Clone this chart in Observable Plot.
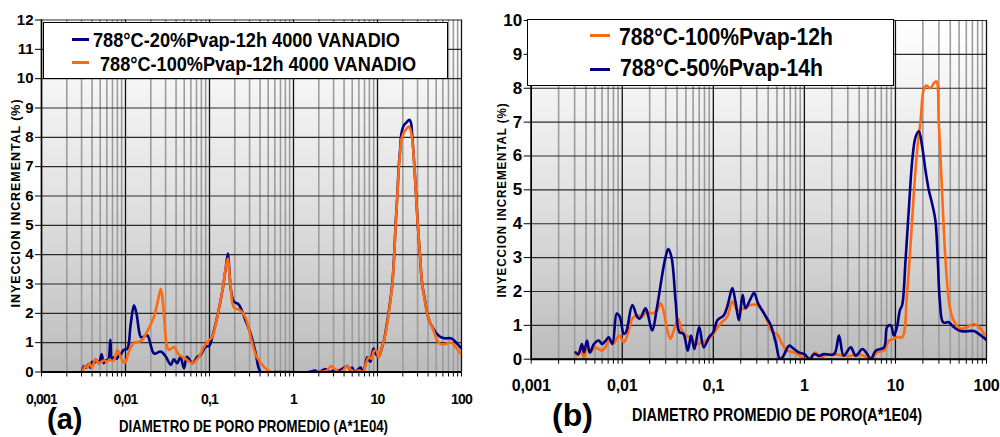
<!DOCTYPE html>
<html><head><meta charset="utf-8">
<script src="https://cdn.jsdelivr.net/npm/d3@7"></script>
<script src="https://cdn.jsdelivr.net/npm/@observablehq/plot@0.6"></script>
<style>
body{margin:0;background:#fff;}
#wrap{position:relative;width:1000px;height:437px;overflow:hidden;font-family:"Liberation Sans",Arial,sans-serif;color:#000;}
.panel{position:absolute;top:0;}
.legend{position:absolute;background:#fff;border:1px solid #000;box-sizing:border-box;}
.sw{position:absolute;height:3px;}
.abs{position:absolute;white-space:pre;font-weight:bold;line-height:1;transform-origin:0 0;}
</style></head>
<body><div id="wrap"></div>
<script>
// ---- data (a) ----
const diamA20 = [0.00307,0.0032,0.0034,0.0036,0.0038,0.004,0.0042,0.0045,0.0048,0.0052,0.0055,0.0058,0.0062,0.0066,0.0069,0.0073,0.0078,0.0083,0.0088,0.0095,0.0105,0.0115,0.0126,0.0135,0.0145,0.0152,0.0165,0.0182,0.0219,0.0263,0.0302,0.0347,0.0375,0.0414,0.045,0.0497,0.054,0.0625,0.0718,0.078,0.09,0.1,0.108,0.124,0.143,0.157,0.166,0.172,0.18,0.195,0.223,0.269,0.309,0.354,0.41,0.6,1.5,1.8,2.0,2.4,2.7,3.0,3.5,4.0,4.4,4.8,5.0,5.3,5.7,6.3,6.7,7.1,7.55,8.2,8.6,9.0,9.6,10.4,11.2,11.9,12.7,13.6,14.3,15.0,15.8,16.4,17.2,17.9,18.6,19.3,20.5,22,24,25,26,27.5,28.8,30.2,32,34,36.5,39,42,46.6,51,56,63,74,80,90,100];
const injA20  = [0.05,0.2,0.15,0.25,0.15,0.35,0.3,0.4,0.3,0.6,0.3,0.4,0.4,1.1,0.45,0.5,0.45,0.55,0.6,0.75,0.79,1.6,2.27,2.0,1.4,1.19,1.2,1.25,0.63,0.7,0.52,0.24,0.43,0.3,0.52,0.13,0.52,0.3,0.52,0.58,0.86,0.9,1.2,1.9,2.8,3.6,4.04,3.5,2.8,2.4,2.3,1.75,1.3,0.66,0.0,0.0,0.0,0.05,0.0,0.1,0.0,0.05,0.05,0.15,0.2,0.05,0.15,0.0,0.05,0.15,0.0,0.2,0.5,0.35,0.6,0.8,0.6,0.55,0.8,1.05,1.5,2.05,2.5,3.0,4.0,5.0,6.0,7.0,7.6,8.15,8.4,8.5,8.6,8.5,8.0,7.0,6.0,5.0,4.0,3.0,2.5,2.0,1.7,1.45,1.3,1.2,1.15,1.15,1.1,0.95,0.8];
const diamA100 = [0.00307,0.0033,0.0035,0.0037,0.004,0.0044,0.0048,0.0052,0.0056,0.006,0.0064,0.0069,0.0073,0.008,0.0088,0.0098,0.0105,0.011,0.0126,0.0152,0.0182,0.0219,0.0246,0.0263,0.0278,0.0293,0.0309,0.033,0.0378,0.043,0.052,0.0625,0.075,0.086,0.1,0.108,0.124,0.143,0.157,0.166,0.172,0.179,0.195,0.234,0.269,0.309,0.354,0.41,0.488,0.55,2.0,2.5,2.8,3.1,3.5,3.9,4.3,4.7,5.0,5.3,6.0,6.7,7.3,7.9,8.5,9.0,9.6,10.4,11.2,11.9,12.7,13.6,14.3,15.0,15.8,16.4,17.2,17.9,18.6,19.3,20.5,22,23.5,24.5,26,27.5,28.8,30.2,32,34,36.5,39,42,46.6,51,56,63,74,80,90,100];
const injA100  = [0.0,0.2,0.15,0.3,0.15,0.45,0.3,0.35,0.4,0.35,0.42,0.38,0.4,0.75,0.5,0.3,0.5,0.7,1.0,1.05,1.39,1.9,2.5,2.84,2.4,1.6,0.92,0.75,0.85,0.6,0.45,0.3,0.52,0.86,1.1,1.2,1.9,2.8,3.6,3.88,3.4,2.9,2.2,2.1,1.85,1.2,0.6,0.3,0.07,0.0,0.0,0.05,0.2,0.1,0.0,0.05,0.2,0.1,0.05,0.0,0.05,0.0,0.3,0.5,0.45,0.7,0.75,0.5,0.8,1.05,1.45,2.0,2.45,2.95,3.95,4.95,5.95,6.9,7.5,7.95,8.15,8.28,8.37,8.3,7.9,7.0,6.0,5.0,4.0,3.0,2.45,2.0,1.7,1.4,1.1,0.95,0.95,1.0,0.95,0.75,0.6];
// ---- data (b) ----
const diamB100 = [0.00307,0.0032,0.0035,0.0038,0.0041,0.0045,0.005,0.0055,0.006,0.0065,0.0073,0.008,0.0092,0.0104,0.0115,0.0129,0.0146,0.0165,0.0188,0.0213,0.0243,0.0264,0.0286,0.031,0.0338,0.0368,0.041,0.0445,0.0495,0.056,0.064,0.0755,0.086,0.1,0.12,0.142,0.162,0.184,0.216,0.256,0.3,0.345,0.39,0.444,0.5,0.57,0.65,0.77,0.9,1.0,1.16,1.33,1.5,1.64,2.12,2.7,3.23,3.86,4.5,5.36,6.3,7.5,8.5,9.6,10.4,11.86,13.4,14.6,15.9,17.3,18.9,20.5,21.9,24.3,26.4,28.2,29.9,32.6,35.5,39.5,43.7,51.8,61.4,72.5,82.3,100];
const injB100  = [0.2,0.1,0.3,0.05,0.3,0.2,0.35,0.3,0.25,0.35,0.55,0.45,0.7,0.5,0.75,1.2,1.3,1.25,1.4,1.35,1.45,1.65,1.4,0.9,0.6,0.85,1.2,0.9,0.7,0.65,0.45,0.5,0.55,0.75,1.05,1.25,1.7,1.45,1.5,1.6,1.6,1.45,1.15,0.8,0.75,0.45,0.25,0.2,0.1,0.0,0.05,0.2,0.0,0.1,0.15,0.1,0.1,0.15,0.1,0.0,0.2,0.25,0.55,0.6,0.65,0.65,1.93,3.31,4.88,6.16,7.05,7.98,8.08,8.0,8.15,8.2,7.0,4.88,2.91,1.54,1.14,0.9,0.95,1.04,0.95,0.65];
const diamB50 = [0.00307,0.0033,0.0036,0.0038,0.0041,0.0044,0.0049,0.0055,0.006,0.0066,0.0071,0.0078,0.0087,0.0094,0.0104,0.011,0.0129,0.0146,0.0156,0.018,0.019,0.0213,0.0243,0.0275,0.0298,0.032,0.0348,0.0386,0.0424,0.047,0.0524,0.057,0.062,0.070,0.0785,0.0896,0.1,0.1107,0.1306,0.144,0.1617,0.175,0.191,0.21,0.226,0.253,0.28,0.31,0.36,0.427,0.484,0.54,0.59,0.68,0.77,0.87,1.0,1.15,1.28,1.45,1.64,2.12,2.4,2.7,3.23,3.66,4.34,4.9,5.36,6.07,7.5,8.1,8.9,9.6,10.4,11.2,11.86,12.9,14.0,15.3,16.6,18.1,19.7,21.4,23.3,25.3,27.5,29.2,30.7,33.4,38.5,43.7,51.8,72.5,82.3,100];
const injB50  = [0.2,0.15,0.45,0.2,0.55,0.2,0.45,0.55,0.45,0.55,0.65,0.45,1.35,1.25,0.75,0.8,1.6,1.25,1.2,1.5,1.35,0.85,1.6,2.5,3.0,3.25,3.0,1.7,0.8,0.75,0.25,0.7,0.3,0.95,0.35,0.65,0.8,1.15,1.3,1.6,2.1,1.7,1.15,1.9,1.5,1.75,1.95,1.65,1.35,1.0,0.5,0.0,0.1,0.4,0.3,0.2,0.15,0.0,0.15,0.1,0.15,0.15,0.7,0.1,0.35,0.1,0.3,0.15,0.0,0.25,0.35,0.95,1.0,0.7,0.95,1.45,1.6,2.91,4.39,5.87,6.55,6.73,6.26,5.57,4.98,4.59,4.09,2.91,1.73,1.09,1.09,0.95,0.83,0.83,0.75,0.57];
// ---- labels ----
const xMajorTicks = [0.001, 0.01, 0.1, 1, 10, 100];
const xMajorLabels = ["0,001", "0,01", "0,1", "1", "10", "100"];
const legendA = ["788°C-20%Pvap-12h 4000 VANADIO", "788°C-100%Pvap-12h 4000 VANADIO"];
const legendB = ["788°C-100%Pvap-12h", "788°C-50%Pvap-14h"];
const yTitle = "INYECCION INCREMENTAL (%)";
const xTitleA = "DIAMETRO DE PORO PROMEDIO (A*1E04)";
const xTitleB = "DIAMETRO PROMEDIO DE PORO(A*1E04)";
const NAVY = "#000080", ORANGE = "#ff6a10";

const rows = (xs, ys) => xs.map((x, i) => ({x, y: ys[i]}));
const minorTicks = [];
for (let e = -3; e <= 1; e++) for (let k = 2; k <= 9; k++) minorTicks.push(+(k * Math.pow(10, e)).toPrecision(6));
const allTicks = xMajorTicks.concat(minorTicks);
const labelOf = d => { const i = xMajorTicks.findIndex(t => Math.abs(t - d) < t * 1e-6); return i >= 0 ? xMajorLabels[i] : ""; };

function panel({width, height, mL, mR, mT, mB, ymax, series, gid, xFont, yFont, xPad, yTick, xSpacing}) {
  const yt = d3.range(0, ymax + 1);
  const svg = Plot.plot({
    width, height, marginLeft: mL, marginRight: mR, marginTop: mT, marginBottom: mB,
    style: {fontFamily: '"Liberation Sans", Arial, sans-serif', background: "transparent", color: "#000"},
    x: {type: "log", domain: [0.001, 100]},
    y: {domain: [0, ymax]},
    marks: [
      Plot.frame({fill: `url(#${gid})`, stroke: "none"}),
      Plot.gridX(minorTicks, {stroke: "#9c9c9c", strokeOpacity: 1, strokeWidth: 1.6}),
      Plot.gridY(yt, {stroke: "#2a2a2a", strokeOpacity: 1, strokeWidth: 1.1}),
      Plot.gridX(xMajorTicks, {stroke: "#111", strokeOpacity: 1, strokeWidth: 1.3}),
      Plot.axisX(allTicks, {tickSize: 5, tickPadding: xPad, tickFormat: labelOf, label: null, fontWeight: "bold"}),
      Plot.axisY(yt, {tickSize: yTick, tickPadding: 2, label: null, fontWeight: "bold"}),
      ...series.map(s => Plot.line(rows(s.x, s.y), {x: "x", y: "y", stroke: s.color, strokeWidth: 2.6, curve: "catmull-rom", clip: true})),
      Plot.ruleX([0.001], {stroke: "#000", strokeWidth: 1.5}),
      Plot.ruleY([0], {stroke: "#000", strokeWidth: 2})
    ]
  });
  const s = d3.select(svg);
  s.insert("defs", ":first-child").html(
    `<linearGradient id="${gid}" x1="0" y1="0" x2="0" y2="1"><stop offset="0" stop-color="#ffffff"/><stop offset="0.5" stop-color="#e2e2e2"/><stop offset="1" stop-color="#bcbcbc"/></linearGradient>`);
  s.selectAll("g").filter(function() { return (this.getAttribute("aria-label") || "").includes("x-axis tick label"); })
    .selectAll("text").style("font-size", xFont + "px").style("font-weight", "bold").style("letter-spacing", xSpacing + "px");
  s.selectAll("g").filter(function() { return (this.getAttribute("aria-label") || "").includes("y-axis tick label"); })
    .selectAll("text").style("font-size", yFont + "px").style("font-weight", "bold");
  return svg;
}

const wrap = document.getElementById("wrap");
const svgA = panel({width: 480, height: 437, mL: 41, mR: 19, mT: 19.5, mB: 65.5, ymax: 12, gid: "gA",
  xFont: 14, yFont: 15, xPad: 17, yTick: 6, xSpacing: -0.8,
  series: [{x: diamA20, y: injA20, color: NAVY}, {x: diamA100, y: injA100, color: ORANGE}]});
svgA.classList.add("panel"); svgA.style.left = "0px"; wrap.appendChild(svgA);
const svgB = panel({width: 510, height: 437, mL: 40.7, mR: 14, mT: 20, mB: 78.3, ymax: 10, gid: "gB",
  xFont: 16, yFont: 17, xPad: 15, yTick: 7, xSpacing: -0.2,
  series: [{x: diamB100, y: injB100, color: ORANGE}, {x: diamB50, y: injB50, color: NAVY}]});
svgB.classList.add("panel"); svgB.style.left = "490px"; wrap.appendChild(svgB);

function el(cls, css, text) {
  const d = document.createElement("div"); d.className = cls; Object.assign(d.style, css);
  if (text != null) d.textContent = text; wrap.appendChild(d); return d;
}
// text fitted to a target width; placed by its baseline (ascent 0.905em, descent 0.212em)
function fit(text, x, baseline, size, target) {
  const d = el("abs", {left: x + "px", top: (baseline - 0.905 * size) + "px", fontSize: size + "px", lineHeight: (1.117 * size) + "px"}, text);
  const w = d.getBoundingClientRect().width;
  d.style.transform = `scaleX(${target / w})`;
  return d;
}
// legend (a)
el("legend", {left: "43px", top: "22px", width: "405px", height: "57px"});
el("sw", {left: "72px", top: "38px", width: "17px", background: NAVY});
el("sw", {left: "72px", top: "60.5px", width: "17px", background: ORANGE});
fit(legendA[0], 93, 48, 20.5, 307);
fit(legendA[1], 100, 71.5, 20.5, 316);
// legend (b)
el("legend", {left: "527px", top: "19px", width: "367px", height: "67px"});
el("sw", {left: "590px", top: "33.5px", width: "20px", background: ORANGE});
el("sw", {left: "590px", top: "67.5px", width: "20px", background: NAVY});
fit(legendB[0], 619, 46, 24, 214);
fit(legendB[1], 620, 77, 24, 203);
// x titles and panel letters
fit(xTitleA, 119, 432, 17, 269);
fit(xTitleB, 632, 422.5, 17.7, 290);
el("abs", {left: "47px", top: "404.6px", fontSize: "29px"}, "(a)");
el("abs", {left: "552px", top: "399.2px", fontSize: "32px"}, "(b)");
// y titles (rotated, fitted to length)
function ytitle(cx, cy, len) {
  const d = el("abs", {left: cx + "px", top: cy + "px", fontSize: "13px", letterSpacing: "1px", transformOrigin: "50% 50%"}, yTitle);
  const w = d.getBoundingClientRect().width;
  d.style.transform = `translate(-50%,-50%) rotate(-90deg) scaleX(${len / w})`;
}
ytitle(15, 202.5, 209);
ytitle(501, 199.5, 195);
</script>
</body></html>
